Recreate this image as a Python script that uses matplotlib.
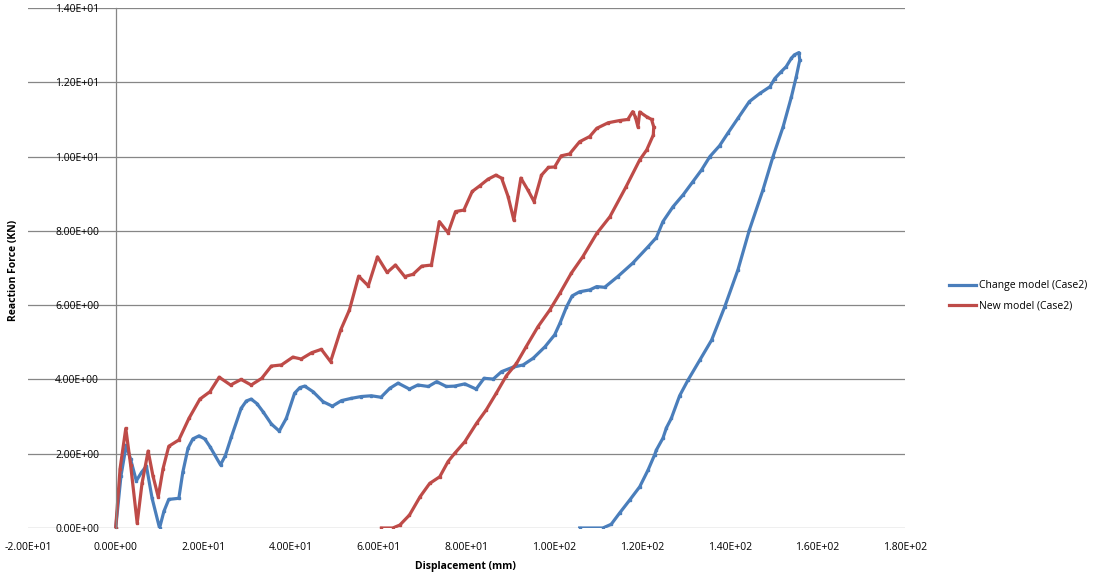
import matplotlib
matplotlib.use('Agg')
import matplotlib.pyplot as plt
from matplotlib.ticker import FuncFormatter

plt.rcParams['font.family'] = ['Open Sans', 'DejaVu Sans']

# Change model (Case2): displacement (mm), reaction force (KN)
change_x = [0.0, 1.2, 2.4, 3.4, 4.7, 5.9, 7.0, 8.3, 10.0, 11.0, 12.1, 14.4, 15.3, 16.5, 17.6,
            19.0, 20.3, 21.5, 23.9, 25.0, 26.4, 28.6, 29.8, 30.9, 32.2, 33.6, 35.5, 37.3, 38.9,
            40.8, 42.0, 43.1, 45.0, 47.3, 49.4, 51.5, 53.7, 56.0, 58.3, 60.5, 62.5, 64.4, 67.0,
            68.9, 71.3, 73.2, 75.4, 77.3, 79.6, 82.2, 84.0, 86.1, 88.0, 90.6, 92.9, 95.2, 97.9,
            100.1, 101.3, 102.8, 104.1, 105.8, 108.1, 109.7, 111.5, 114.5, 117.9, 121.4, 123.3,
            124.8, 127.1, 129.4, 131.6, 133.6, 135.5, 137.7, 139.6, 141.9, 144.5, 146.9, 149.2,
            150.3, 151.8, 152.9, 154.1, 154.8, 155.8, 156.0, 155.2, 154.1, 152.2, 149.9, 147.6,
            144.5, 141.9, 138.9, 135.9, 133.2, 130.5, 128.6, 126.7, 125.6, 124.8, 123.3, 122.9,
            121.4, 119.5, 117.2, 114.9, 113.0, 111.1, 105.8]
change_y = [0.0, 1.4, 2.23, 1.85, 1.27, 1.5, 1.67, 0.8, 0.0, 0.45, 0.77, 0.8, 1.5, 2.15, 2.4,
            2.48, 2.4, 2.19, 1.7, 1.95, 2.46, 3.22, 3.42, 3.47, 3.35, 3.13, 2.8, 2.61, 2.95,
            3.63, 3.78, 3.82, 3.67, 3.4, 3.28, 3.43, 3.49, 3.54, 3.56, 3.52, 3.76, 3.9, 3.74,
            3.85, 3.81, 3.94, 3.81, 3.82, 3.88, 3.74, 4.03, 4.01, 4.21, 4.33, 4.39, 4.57, 4.88,
            5.2, 5.51, 5.95, 6.25, 6.36, 6.41, 6.5, 6.48, 6.77, 7.13, 7.57, 7.82,
            8.25, 8.65, 8.97, 9.32, 9.64, 10.0, 10.29, 10.63, 11.03, 11.48, 11.7, 11.88,
            12.1, 12.29, 12.42, 12.65, 12.74, 12.8, 12.6, 12.15, 11.61, 10.8, 10.0, 9.1,
            8.02, 6.95, 5.96, 5.06, 4.52, 3.98, 3.56, 2.95, 2.7, 2.42, 2.1, 1.97,
            1.56, 1.11, 0.75, 0.4, 0.1, 0.0, 0.0]

# New model (Case2)
new_x = [0.0, 1.0, 2.3, 3.4, 4.9, 6.0, 7.4, 8.5, 9.7, 10.8, 12.1, 14.4, 16.7, 19.2, 21.5, 23.6,
         26.2, 28.6, 30.9, 33.3, 35.5, 37.8, 40.4, 42.3, 44.7, 46.9, 49.0, 51.3, 53.3, 55.4,
         57.6, 59.7, 61.9, 63.8, 65.9, 67.8, 69.8, 72.0, 73.8, 75.8, 77.5, 79.4, 81.3, 83.1,
         84.9, 86.7, 88.0, 89.5, 90.8, 92.4, 94.0, 95.4, 97.1, 98.7, 100.1, 101.6, 103.5,
         105.8, 108.1, 109.7, 112.3, 114.9, 116.8, 117.9, 118.5, 119.1, 119.5, 121.1, 122.2,
         122.7, 122.6, 121.1, 119.5, 116.4, 112.7, 109.7, 106.5, 103.9, 101.3, 99.0, 96.3,
         93.6, 91.4, 89.1, 86.8, 84.5, 82.3, 79.6, 77.3, 75.8, 73.9, 71.6, 69.4, 67.0, 64.8,
         63.2, 60.6]
new_y = [0.0, 1.6, 2.68, 1.7, 0.13, 1.2, 2.07, 1.4, 0.84, 1.6, 2.2, 2.37, 2.95, 3.47, 3.67, 4.06,
         3.85, 4.0, 3.85, 4.03, 4.36, 4.39, 4.6, 4.55, 4.72, 4.81, 4.48, 5.33, 5.87, 6.78,
         6.52, 7.3, 6.88, 7.08, 6.77, 6.83, 7.05, 7.08, 8.25, 7.95, 8.52, 8.56, 9.06, 9.22,
         9.39, 9.5, 9.42, 8.92, 8.29, 9.42, 9.1, 8.79, 9.5, 9.71, 9.72, 10.02, 10.07,
         10.4, 10.54, 10.76, 10.91, 10.97, 11.0, 11.21, 11.07, 10.8, 11.2, 11.07, 11.0,
         10.8, 10.58, 10.18, 9.91, 9.19, 8.38, 7.93, 7.3, 6.86, 6.32, 5.87, 5.42,
         4.88, 4.43, 4.1, 3.63, 3.18, 2.82, 2.32, 2.01, 1.79, 1.38, 1.2, 0.84, 0.35, 0.08,
         0.0, 0.0]

x_ticks = [-20, 0, 20, 40, 60, 80, 100, 120, 140, 160, 180]
y_ticks = [0, 2, 4, 6, 8, 10, 12, 14]

fig = plt.figure(figsize=(11.02, 5.76), dpi=100)
ax = fig.add_axes([28 / 1102, 48 / 576, 877 / 1102, 520 / 576])

grid_c = '#868686'
ax.plot(change_x, change_y, color='#4A7EBB', lw=2.3, marker='s', ms=1.6,
        solid_joinstyle='round', label='Change model (Case2)')
ax.plot(new_x, new_y, color='#BE4B48', lw=2.3, marker='s', ms=1.6,
        solid_joinstyle='round', label='New model (Case2)')

ax.set_xlim(-20, 180)
ax.set_ylim(0, 14)
ax.set_xticks(x_ticks)
ax.set_yticks(y_ticks)
fmt = FuncFormatter(lambda v, p: '{:.2E}'.format(v))
ax.xaxis.set_major_formatter(fmt)
ax.yaxis.set_major_formatter(fmt)
ax.grid(axis='y', color=grid_c, lw=0.9)
ax.set_axisbelow(True)

for s in ['top', 'right', 'bottom']:
    ax.spines[s].set_visible(False)
ax.spines['left'].set_position(('data', 0))
ax.spines['left'].set_color(grid_c)
ax.spines['left'].set_linewidth(0.9)
ax.tick_params(axis='both', length=0, labelsize=7.5, colors='black')
ax.tick_params(axis='x', pad=10)
ax.tick_params(axis='y', pad=12)

fig.text(14 / 1102, 1 - 270 / 576, 'Reaction Force (KN)', rotation=90, fontsize=7.5,
         fontweight='bold', ha='center', va='center')
fig.text(465 / 1102, 1 - 566 / 576, 'Displacement (mm)', fontsize=7.5,
         fontweight='bold', ha='center', va='center')

fig.legend(loc='center left', bbox_to_anchor=(940 / 1102, 1 - 296 / 576), frameon=False,
           fontsize=7.5, handlelength=2.6, handletextpad=0.2, labelspacing=0.9, markerscale=0)

fig.savefig('out.png', dpi=100)
